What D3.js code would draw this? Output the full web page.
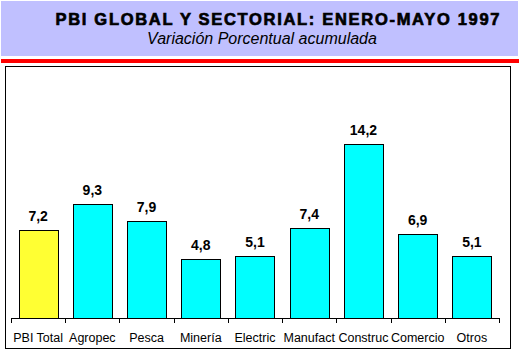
<!DOCTYPE html>
<html><head><meta charset="utf-8">
<script src="https://cdn.jsdelivr.net/npm/d3@7"></script>
<style>body{margin:0;background:#fff}svg{display:block}</style>
</head><body>
<svg id="c" width="520" height="360"></svg>
<script>
const categories = ["PBI Total","Agropec","Pesca","Minería","Electric","Manufact","Construc","Comercio","Otros"];
const values = [7.2, 9.3, 7.9, 4.8, 5.1, 7.4, 14.2, 6.9, 5.1];
const valueLabels = ["7,2","9,3","7,9","4,8","5,1","7,4","14,2","6,9","5,1"];
const title = "PBI GLOBAL Y SECTORIAL: ENERO-MAYO 1997";
const subtitle = "Variación Porcentual acumulada";

const svg = d3.select("#c");
// header band
svg.append("rect").attr("x",1).attr("y",1).attr("width",517).attr("height",55).attr("fill","#C0C0FF");
svg.append("rect").attr("x",1).attr("y",59).attr("width",518).attr("height",4).attr("fill","#FF0000");
svg.append("text").attr("x",55.5).attr("y",24.5).attr("font-family","Liberation Sans, Arial, sans-serif")
  .attr("font-weight","bold").attr("font-size",16.5).attr("textLength",444).attr("lengthAdjust","spacing")
  .attr("fill","#000").attr("stroke","#000").attr("stroke-width",0.7).text(title);
svg.append("text").attr("x",262).attr("y",44).attr("text-anchor","middle").attr("font-family","Liberation Sans, Arial, sans-serif")
  .attr("font-style","italic").attr("font-size",16).attr("fill","#000").text(subtitle);
// frame
svg.append("rect").attr("x",5.5).attr("y",66.5).attr("width",505).attr("height",282).attr("fill","none").attr("stroke","#000").attr("stroke-width",1);

const x = d3.scaleBand().domain(categories).range([11,499]).paddingInner(0.28).paddingOuter(0.14);
const y = d3.scaleLinear().domain([0,16]).range([318, 318-16*12.22]);

svg.selectAll(".bar").data(categories).join("rect")
  .attr("x", d=>Math.round(x(d))+0.5).attr("y", (d,i)=>Math.round(y(values[i]))+0.5)
  .attr("width", Math.round(x.bandwidth())).attr("height",(d,i)=>Math.round(y(0))-Math.round(y(values[i])))
  .attr("fill",(d,i)=>i===0?"#FFFF33":"#00FFFF").attr("stroke","#000").attr("stroke-width",1);

svg.selectAll(".vl").data(categories).join("text")
  .attr("x", d=>x(d)+x.bandwidth()/2).attr("y",(d,i)=>y(values[i])-9)
  .attr("text-anchor","middle").attr("font-family","Liberation Sans, Arial, sans-serif")
  .attr("font-weight","bold").attr("font-size",14).attr("fill","#000").text((d,i)=>valueLabels[i]);

// axis
const g = svg.append("g");
g.append("line").attr("x1",11).attr("x2",499).attr("y1",318.5).attr("y2",318.5).attr("stroke","#000");
const tickXs = categories.map(d=>x(d)-(x.step()-x.bandwidth())/2).concat([x(categories[categories.length-1])+x.bandwidth()+(x.step()-x.bandwidth())/2]);
g.selectAll(".tk").data(tickXs).join("line")
  .attr("x1",d=>Math.round(d)+0.5).attr("x2",d=>Math.round(d)+0.5).attr("y1",318).attr("y2",323).attr("stroke","#000");
g.selectAll(".cl").data(categories).join("text")
  .attr("x", d=>x(d)+x.bandwidth()/2).attr("y",341.5).attr("text-anchor","middle")
  .attr("font-family","Liberation Sans, Arial, sans-serif").attr("font-size",12.5).attr("fill","#000").text(d=>d);
</script>
</body></html>
